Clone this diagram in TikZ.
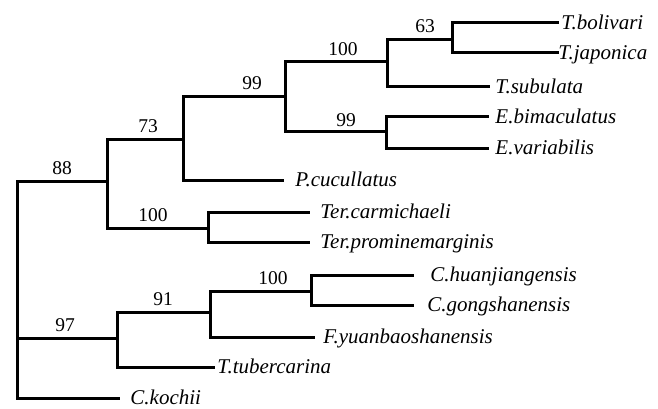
\documentclass[tikz,border=0pt]{standalone}
\usepackage{fontspec}
\setmainfont{Liberation Serif}
\begin{document}
\begin{tikzpicture}[x=1pt,y=-1pt,
  branch/.style={line width=3pt,line join=miter,line cap=rect},
  taxon/.style={anchor=base west,inner sep=0pt,font=\itshape,scale=2.1},
  support/.style={anchor=base,inner sep=0pt,font=\upshape,scale=1.95}]
\useasboundingbox (0,0) rectangle (658,409);
% internal nodes
\coordinate (r)   at (17,181);
\coordinate (a)   at (107,181);
\coordinate (b)   at (183,139);
\coordinate (c)   at (285,97);
\coordinate (d)   at (387,62);
\coordinate (f)   at (452,40);
\coordinate (e)   at (386,131);
\coordinate (t)   at (208,228);
\coordinate (g)   at (117,338);
\coordinate (h)   at (210,312);
\coordinate (i)   at (311,291);
% leaf ends
\coordinate (l1)  at (557,23);
\coordinate (l2)  at (557,53);
\coordinate (l3)  at (488,87);
\coordinate (l4)  at (487,117);
\coordinate (l5)  at (487,148);
\coordinate (l6)  at (282,180);
\coordinate (l7)  at (308,212);
\coordinate (l8)  at (308,242);
\coordinate (l9)  at (412,275);
\coordinate (l10) at (412,305);
\coordinate (l11) at (313,337);
\coordinate (l12) at (213,367);
\coordinate (l13) at (118,398);
% branches
\draw[branch] (r) |- (a);
\draw[branch] (r) |- (g);
\draw[branch] (r) |- (l13);
\draw[branch] (a) |- (b);
\draw[branch] (a) |- (t);
\draw[branch] (b) |- (c);
\draw[branch] (b) |- (l6);
\draw[branch] (c) |- (d);
\draw[branch] (c) |- (e);
\draw[branch] (d) |- (f);
\draw[branch] (d) |- (l3);
\draw[branch] (f) |- (l1);
\draw[branch] (f) |- (l2);
\draw[branch] (e) |- (l4);
\draw[branch] (e) |- (l5);
\draw[branch] (t) |- (l7);
\draw[branch] (t) |- (l8);
\draw[branch] (g) |- (h);
\draw[branch] (g) |- (l12);
\draw[branch] (h) |- (i);
\draw[branch] (h) |- (l11);
\draw[branch] (i) |- (l9);
\draw[branch] (i) |- (l10);
% taxa
\node[taxon] (n1)  at (561,29.5) {T.bolivari};
\node[taxon] (n2)  at (558,59.5) {T.japonica};
\node[taxon] (n3)  at (495,93.5) {T.subulata};
\node[taxon] (n4)  at (495,123.5) {E.bimaculatus};
\node[taxon] (n5)  at (495,154.5) {E.variabilis};
\node[taxon] (n6)  at (295,186.5) {P.cucullatus};
\node[taxon] (n7)  at (320,218.5) {Ter.carmichaeli};
\node[taxon] (n8)  at (320,248.5) {Ter.prominemarginis};
\node[taxon] (n9)  at (430,281.5) {C.huanjiangensis};
\node[taxon] (n10) at (427,311.5) {C.gongshanensis};
\node[taxon] (n11) at (323,343.5) {F.yuanbaoshanensis};
\node[taxon] (n12) at (217,373.5) {T.tubercarina};
\node[taxon] (n13) at (130,404.5) {C.kochii};
% support values
\node[support] (s88)  at (62,174) {88};
\node[support] (s73)  at (148,132) {73};
\node[support] (s99a) at (252,90) {99};
\node[support] (s100a) at (343,56) {100};
\node[support] (s63)  at (425,33) {63};
\node[support] (s99b) at (346,126) {99};
\node[support] (s100b) at (153,221) {100};
\node[support] (s100c) at (273,284) {100};
\node[support] (s91)  at (163,305) {91};
\node[support] (s97)  at (65,331) {97};
\end{tikzpicture}
\end{document}
